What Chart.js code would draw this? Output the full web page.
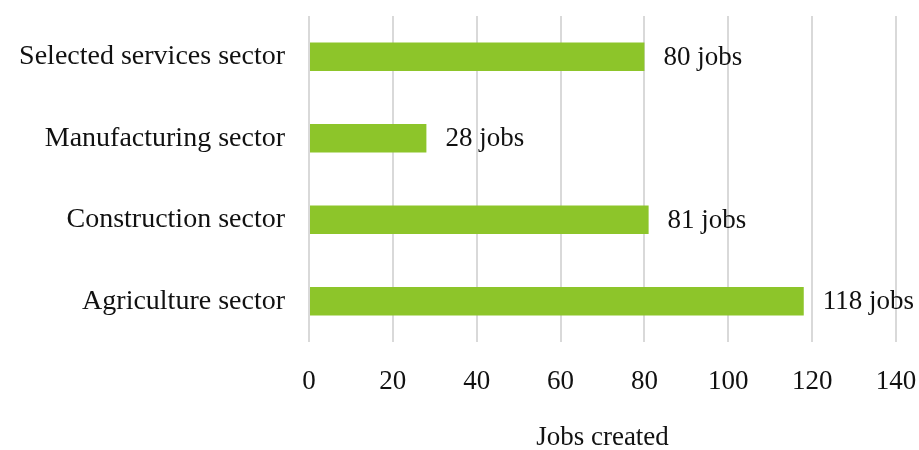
<!DOCTYPE html>
<html>
<head>
<meta charset="utf-8">
<script src="https://cdn.jsdelivr.net/npm/chart.js@4.4.0/dist/chart.umd.min.js"></script>
<style>
  html, body { margin: 0; padding: 0; background: #fff; }
  #wrap { width: 919px; height: 450px; }
</style>
</head>
<body>
<div id="wrap"><canvas id="myChart" width="919" height="450"></canvas></div>
<script>
const sectors = ['Selected services sector', 'Manufacturing sector', 'Construction sector', 'Agriculture sector'];
const jobs = [80, 28, 81, 118];
const xTicks = [0, 20, 40, 60, 80, 100, 120, 140];

const serif = "'Liberation Serif', 'DejaVu Serif', serif";

// draws "N jobs" to the right of each bar
const valueLabels = {
    id: 'valueLabels',
    afterDatasetsDraw(chart) {
        const ctx = chart.ctx;
        const meta = chart.getDatasetMeta(0);
        ctx.save();
        ctx.font = '27px ' + serif;
        ctx.fillStyle = '#111';
        ctx.textAlign = 'left';
        ctx.textBaseline = 'middle';
        meta.data.forEach((bar, i) => {
            ctx.fillText(jobs[i] + ' jobs', bar.x + 19, bar.y + 1);
        });
        ctx.restore();
    }
};

new Chart(document.getElementById('myChart'), {
    type: 'bar',
    data: {
        labels: sectors,
        datasets: [{
            data: jobs,
            backgroundColor: '#8dc52a',
            categoryPercentage: 1,
            barPercentage: 0.35
        }]
    },
    options: {
        indexAxis: 'y',
        responsive: false,
        animation: false,
        layout: { padding: { top: 16, right: 23, left: 0, bottom: 0 } },
        plugins: {
            legend: { display: false },
            tooltip: { enabled: false }
        },
        scales: {
            x: {
                min: 0,
                max: 140,
                afterBuildTicks: (axis) => { axis.ticks = xTicks.map(v => ({ value: v })); },
                afterFit: (axis) => {
                    axis.height = 108;
                    axis.paddingLeft = 0;
                    axis.paddingRight = 0;
                },
                border: { display: false },
                grid: { color: '#d9d9d9', lineWidth: 2, drawTicks: false },
                ticks: { padding: 24, color: '#111', font: { family: serif, size: 27 } },
                title: {
                    display: true,
                    text: 'Jobs created',
                    color: '#111',
                    font: { family: serif, size: 27 },
                    padding: { top: 20, bottom: -4 }
                }
            },
            y: {
                afterFit: (axis) => {
                    axis.width = 309;
                    axis.paddingTop = 0;
                    axis.paddingBottom = 0;
                },
                border: { display: false },
                grid: { display: false, drawTicks: false },
                ticks: { padding: 24, color: '#111', font: { family: serif, size: 28 } }
            }
        }
    },
    plugins: [valueLabels]
});
</script>
</body>
</html>
